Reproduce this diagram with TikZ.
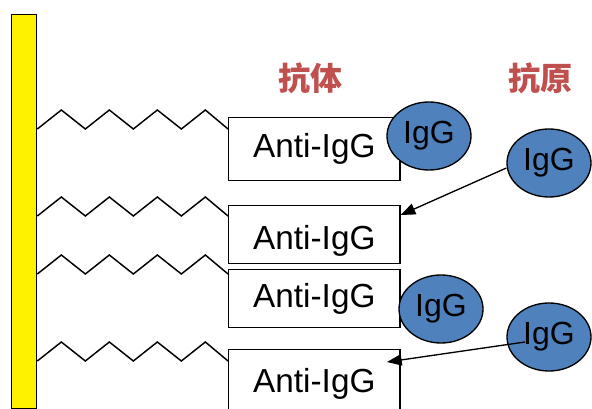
\documentclass[tikz,border=0pt]{standalone}
\usepackage{fontspec}
\setmainfont{Liberation Sans}
\newfontfamily\cjk{Noto Sans CJK SC}
\usetikzlibrary{shapes.geometric,arrows.meta}
\definecolor{lblred}{HTML}{C0504D}
\definecolor{igblue}{HTML}{4F81BD}
\tikzset{
  abox/.style={draw=black, line width=1pt, fill=white, anchor=north west,
    minimum width=128.5pt, inner sep=0pt, font=\fontsize{25}{28}\selectfont},
  igg/.style={ellipse, draw=black, line width=1pt, fill=igblue, inner sep=0pt,
    minimum width=63pt, minimum height=51pt, font=\fontsize{24}{27}\selectfont},
  zz/.style={draw=black, line width=1.1pt, line join=miter},
  lbl/.style={text=lblred, font=\cjk\bfseries\fontsize{24}{27}\selectfont},
  arr/.style={draw=black, line width=1pt, -{Triangle[length=11pt,width=8.5pt]}}
}
\begin{document}
\begin{tikzpicture}[x=0.75pt,y=-0.75pt]
\clip (0,0) rectangle (592,409);
\fill[white] (0,0) rectangle (592,409);
% bar
\node[draw=black, line width=1pt, fill=yellow, anchor=north west, inner sep=0pt,
  minimum width=18.75pt, minimum height=295.5pt] (bar) at (11,14) {};
% labels
\node[lbl] (l1) at (310,78) {抗体};
\node[lbl] (l2) at (540,78) {抗原};
% boxes
\node[abox, minimum height=47.25pt] (b1) at (228,117) {Anti-IgG};
\node[abox, minimum height=43.5pt, text height=27pt, text depth=5.3pt] (b2) at (228,205) {Anti-IgG};
\node[abox, minimum height=43.5pt] (b3) at (228,269) {Anti-IgG};
\node[abox, minimum height=47.25pt, text height=22.5pt, text depth=5.3pt] (b4) at (228,349) {Anti-IgG};
% zigzags
\foreach \b/\y in {b1/129, b2/216, b3/274, b4/361}{
  \draw[zz] (bar.east |- 0,\y) -- ++(24,-19) -- ++(24,19) -- ++(24,-19) -- ++(24,19)
    -- ++(24,-19) -- ++(24,19) -- ++(24,-19) -- (\b.west |- 0,\y);
}
% antigens
\node[igg] (g1) at (429,136) {IgG};
\node[igg] (g2) at (549,163) {IgG};
\node[igg] (g3) at (441,309) {IgG};
\node[igg] (g4) at (549,337) {IgG};
% arrows
\coordinate (a2s) at (525,342);
\draw[arr] (g2.west |- 0,168) -- (b2.north east |- 0,215);
\draw[arr] (a2s) -- (387,362);
\end{tikzpicture}
\end{document}
